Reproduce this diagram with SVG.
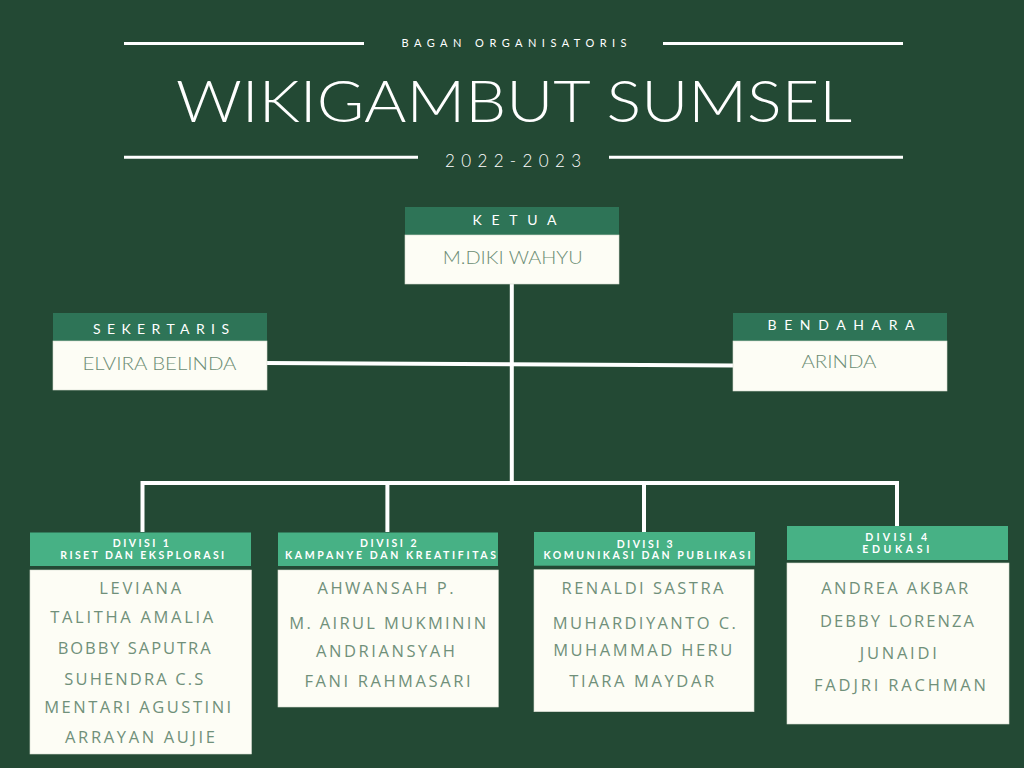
<svg xmlns="http://www.w3.org/2000/svg" width="1024" height="768" viewBox="0 0 1024 768">
<style>
.bg{fill:#234934}
.rule{stroke:#ffffff;stroke-width:3}
.hd{fill:#2e7457}
.dhd{fill:#47b185}
.body{fill:#fdfdf5;stroke:#d8dcd0;stroke-width:0.6}
.lbl{font-family:Lato,"Open Sans",sans-serif;fill:#ffffff;text-anchor:middle}
.role{font-size:14px;font-weight:400}
.dv{font-size:10.5px;font-weight:700}
.nm{font-family:"Open Sans",Lato,sans-serif;fill:#70907a;font-size:16.5px;font-weight:400;text-anchor:middle}
.nmc{font-family:Lato,"Open Sans",sans-serif;fill:#6b8c73;font-size:17px;font-weight:300;text-anchor:middle}
.conn{stroke:#ffffff;stroke-width:4;fill:none}
</style>
<rect class="bg" x="0" y="0" width="1024" height="768"/>

<g id="header">
  <line class="rule" x1="124" y1="43.5" x2="364" y2="43.5"/>
  <line class="rule" x1="663" y1="43.5" x2="903" y2="43.5"/>
  <text class="lbl" x="514" y="46.7" font-size="11" textLength="225">BAGAN ORGANISATORIS</text>
  <text class="lbl" x="514" y="121.7" font-size="58" font-weight="300" textLength="676" lengthAdjust="spacingAndGlyphs">WIKIGAMBUT SUMSEL</text>
  <line class="rule" x1="124" y1="157.3" x2="418" y2="157.3"/>
  <line class="rule" x1="609" y1="157.3" x2="903" y2="157.3"/>
  <text class="lbl" x="513" y="166.5" font-size="17" font-weight="300" textLength="136">2022-2023</text>
</g>

<g id="connectors">
  <line class="conn" x1="511.8" y1="283" x2="511.8" y2="483"/>
  <line class="conn" x1="266" y1="363" x2="734" y2="365.5"/>
  <polyline class="conn" points="142.5,532 142.5,483 897,483 897,526"/>
  <line class="conn" x1="387.4" y1="483" x2="387.4" y2="532"/>
  <line class="conn" x1="644" y1="483" x2="644" y2="532"/>
</g>

<g id="ketua">
  <rect class="hd" x="405" y="207" width="214" height="28"/>
  <rect class="body" x="405" y="235" width="214" height="49"/>
  <text class="lbl role" x="514.5" y="225" textLength="84">KETUA</text>
  <text class="nmc" x="512.7" y="264" textLength="140" lengthAdjust="spacingAndGlyphs">M.DIKI WAHYU</text>
</g>

<g id="sekertaris">
  <rect class="hd" x="53" y="313" width="214" height="28"/>
  <rect class="body" x="53" y="341" width="214" height="49"/>
  <text class="lbl role" x="161" y="334" textLength="136">SEKERTARIS</text>
  <text class="nmc" x="159.5" y="370" textLength="154" lengthAdjust="spacingAndGlyphs">ELVIRA BELINDA</text>
</g>

<g id="bendahara">
  <rect class="hd" x="733" y="313" width="214" height="28"/>
  <rect class="body" x="733" y="341" width="214" height="50"/>
  <text class="lbl role" x="841" y="330" textLength="147">BENDAHARA</text>
  <text class="nmc" x="839" y="368.3" textLength="75" lengthAdjust="spacingAndGlyphs">ARINDA</text>
</g>

<g id="divisi1">
  <rect class="dhd" x="30" y="532.5" width="221" height="33.5"/>
  <rect class="body" x="30" y="570" width="221.5" height="184"/>
  <text class="lbl dv" x="140.8" y="546.5" textLength="56">DIVISI 1</text>
  <text class="lbl dv" x="142.2" y="559" textLength="164">RISET DAN EKSPLORASI</text>
  <text class="nm" x="140.2" y="594" textLength="82">LEVIANA</text>
  <text class="nm" x="131.7" y="622.7" textLength="163">TALITHA AMALIA</text>
  <text class="nm" x="134.2" y="654" textLength="153">BOBBY SAPUTRA</text>
  <text class="nm" x="133.8" y="685" textLength="139">SUHENDRA C.S</text>
  <text class="nm" x="137.7" y="713.3" textLength="187">MENTARI AGUSTINI</text>
  <text class="nm" x="140" y="742.7" textLength="150">ARRAYAN AUJIE</text>
</g>

<g id="divisi2">
  <rect class="dhd" x="278" y="532.5" width="220" height="33.5"/>
  <rect class="body" x="278" y="570" width="220.3" height="137"/>
  <text class="lbl dv" x="388.3" y="546.5" textLength="56.5">DIVISI 2</text>
  <text class="lbl dv" x="390.5" y="559" textLength="211">KAMPANYE DAN KREATIFITAS</text>
  <text class="nm" x="385.5" y="594" textLength="136">AHWANSAH P.</text>
  <text class="nm" x="387.7" y="629.3" textLength="197">M. AIRUL MUKMININ</text>
  <text class="nm" x="385.5" y="656.7" textLength="139">ANDRIANSYAH</text>
  <text class="nm" x="387.5" y="686.7" textLength="166">FANI RAHMASARI</text>
</g>

<g id="divisi3">
  <rect class="dhd" x="534" y="532" width="221" height="33.7"/>
  <rect class="body" x="534" y="569.7" width="220" height="142"/>
  <text class="lbl dv" x="644.7" y="547.5" textLength="56">DIVISI 3</text>
  <text class="lbl dv" x="647" y="559" textLength="207">KOMUNIKASI DAN PUBLIKASI</text>
  <text class="nm" x="642.5" y="594" textLength="162">RENALDI SASTRA</text>
  <text class="nm" x="644.3" y="629.3" textLength="183">MUHARDIYANTO C.</text>
  <text class="nm" x="642.8" y="656" textLength="179">MUHAMMAD HERU</text>
  <text class="nm" x="641.7" y="686.7" textLength="145">TIARA MAYDAR</text>
</g>

<g id="divisi4">
  <rect class="dhd" x="787" y="526" width="221" height="34"/>
  <rect class="body" x="787" y="563" width="222" height="161"/>
  <text class="lbl dv" x="896.2" y="540.5" font-size="12" textLength="62">DIVISI 4</text>
  <text class="lbl dv" x="895.8" y="553" font-size="12" textLength="67">EDUKASI</text>
  <text class="nm" x="894.7" y="594" textLength="147">ANDREA AKBAR</text>
  <text class="nm" x="897" y="626.7" textLength="154">DEBBY LORENZA</text>
  <text class="nm" x="898.3" y="659.3" textLength="77">JUNAIDI</text>
  <text class="nm" x="900" y="690.7" textLength="172">FADJRI RACHMAN</text>
</g>
</svg>
